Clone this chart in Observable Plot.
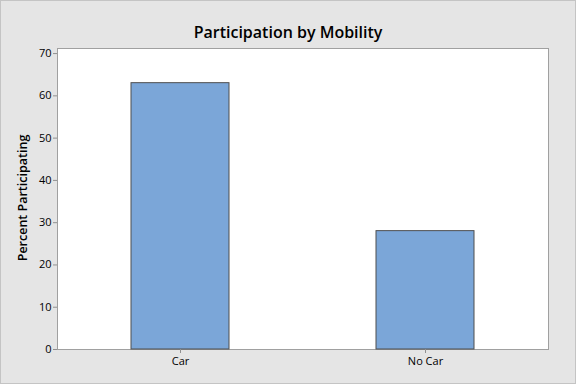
<!DOCTYPE html>
<html><head><meta charset="utf-8">
<script src="https://cdn.jsdelivr.net/npm/d3@7"></script>
<script src="https://cdn.jsdelivr.net/npm/@observablehq/plot@0.6"></script>
<style>
body{margin:0;background:#fff}
#chart svg{display:block;outline:1px solid #c4c4c4;outline-offset:-1px}
</style></head>
<body><div id="chart"></div>
<script>
const categories = ["Car", "No Car"];
const percents = [63, 28];
const yTicks = [0, 10, 20, 30, 40, 50, 60, 70];
const title = "Participation by Mobility";
const yLabel = "Percent Participating";

const data = categories.map((c, i) => ({category: c, percent: percents[i]}));

const plot = Plot.plot({
  width: 576,
  height: 384,
  marginLeft: 57,
  marginTop: 48,
  marginRight: 28,
  marginBottom: 35,
  style: {background: "#e5e5e5", fontFamily: "'Open Sans', sans-serif", fontSize: "11px", color: "black"},
  x: {domain: categories, paddingInner: 0.6, paddingOuter: 0.3, label: null},
  y: {domain: [0, 71.2], label: null},
  marks: [
    Plot.frame({fill: "white", stroke: "#a0a0a0"}),
    Plot.barY(data, {x: "category", y: "percent", fill: "#7ba6d8", stroke: "#4f4f4f", strokeWidth: 1}),
    Plot.axisY({ticks: yTicks, tickSize: 4, tickPadding: 2, stroke: "#909090", fill: "black", label: null}),
    Plot.axisX({tickSize: 4, tickPadding: 4, stroke: "#909090", fill: "black", label: null}),
    Plot.text([yLabel], {frameAnchor: "left", textAnchor: "middle", dx: -35, dy: -1, rotate: -90, fontSize: 12.5, fontWeight: 600, fill: "black"}),
    Plot.text([title], {frameAnchor: "top", textAnchor: "middle", dx: -15, dy: -22, fontSize: 16, fontWeight: 600, fill: "black"})
  ]
});
document.getElementById("chart").appendChild(plot);
</script>
</body></html>
